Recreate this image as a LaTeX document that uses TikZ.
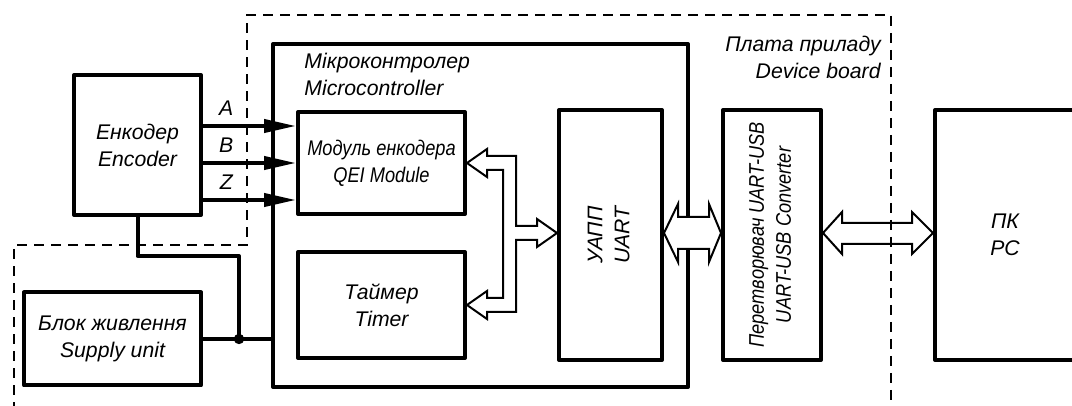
\documentclass[tikz,border=0pt]{standalone}
\usepackage{fontspec}
\setmainfont{Liberation Sans}
\newfontfamily\narrowfont{Liberation Sans}[FakeStretch=0.86]
\usetikzlibrary{positioning,arrows.meta}

\begin{document}
\begin{tikzpicture}[x=0.5pt, y=-0.5pt,
  block/.style={draw, line width=2pt, line join=round, inner sep=0pt, align=center, font=\fontsize{10.6}{13.5}\selectfont\itshape},
  narrowblock/.style={block, font=\fontsize{10.6}{13.5}\selectfont\narrowfont\itshape},
  caption/.style={inner sep=0pt, font=\fontsize{10.6}{13.5}\selectfont\itshape},
  wire/.style={line width=2pt, line join=round},
  sig/.style={wire, -{Triangle[length=16pt, width=6.5pt]}},
  bus/.style={draw, line width=1pt, line join=miter},
  board/.style={line width=1pt, dash pattern=on 5pt off 3.5pt}]
\path[use as bounding box, fill=white] (0,0) rectangle (1072,406);
% device board outline
\draw[board] (14,412) -- (14,245) -- (247,245) -- (247,15) -- (891,15) -- (891,412);
\node[caption, align=right, anchor=north east] (boardtitle) at (881,36) {Плата приладу\\Device board};

\node[block, minimum width=63.5pt, minimum height=70pt] (enc) at (137.5,145) {Енкодер\\Encoder};
\node[block, minimum width=88.5pt, minimum height=46.5pt] (psu) at (112.5,339) {Блок живлення\\Supply unit};
\node[block, minimum width=207.5pt, minimum height=171.5pt] (mcu) at (480.5,215.5) {};
\node[caption, align=left, anchor=north west] (mcutitle) at ([shift={(33,11)}]mcu.north west) {Мікроконтролер\\Microcontroller};
\node[narrowblock, minimum width=83.5pt, minimum height=51pt] (qei) at (381.5,163) {Модуль енкодера\\QEI Module};
\node[block, minimum width=83.5pt, minimum height=53pt] (tmr) at (381.5,305) {Таймер\\Timer};
\node[block, minimum width=51.5pt, minimum height=125pt] (uart) at (610.5,235) {\rotatebox{90}{\begin{tabular}{@{}c@{}}УАПП\\UART\end{tabular}}};
\node[narrowblock, minimum width=49pt, minimum height=125pt] (conv) at (772,235) {\rotatebox{90}{\begin{tabular}{@{}c@{}}Перетворювач UART-USB\\UART-USB Converter\end{tabular}}};
\node[block, minimum width=100pt, minimum height=125pt, anchor=west] (pc) at (933,235) {};
\node[caption, align=center] (pctitle) at (1005,235) {ПК\\PC};

% encoder channels
\foreach \sig/\yy in {A/126,B/163,Z/200}
  \draw[sig] (enc.east |- 0,\yy) -- node[caption, above=4pt, pos=0.25] (lbl\sig) {\sig} (qei.west |- 0,\yy);

% power
\coordinate (jn) at (239,339);
\draw[wire] (psu.east) -- (mcu.west |- psu.east);
\draw[wire] (jn) -- (jn |- 0,256) -| (enc.south);
\fill (jn) circle[radius=2.6pt];

% internal bus
\draw[bus, fill=white] (qei.east) -- (487,149) -- (487,156) -- (516,156) -- (516,226) -- (537,226) -- (537,219)
  -- (uart.west |- 0,233) -- (537,247) -- (537,240) -- (516,240) -- (516,312) -- (487,312) -- (487,319)
  -- (tmr.east) -- (487,291) -- (487,298) -- (503,298) -- (503,170) -- (487,170) -- (487,177) -- cycle;
\draw[bus, fill=white] (uart.east |- 0,233) -- (678,204) -- (678,217) -- (709,217) -- (709,204)
  -- (conv.west |- 0,233) -- (709,262) -- (709,249) -- (678,249) -- (678,262) -- cycle;
\draw[bus] (conv.east |- 0,233) -- (842,212) -- (842,223) -- (912,223) -- (912,212)
  -- (pc.west |- 0,233) -- (912,254) -- (912,244) -- (842,244) -- (842,254) -- cycle;
\end{tikzpicture}
\end{document}
